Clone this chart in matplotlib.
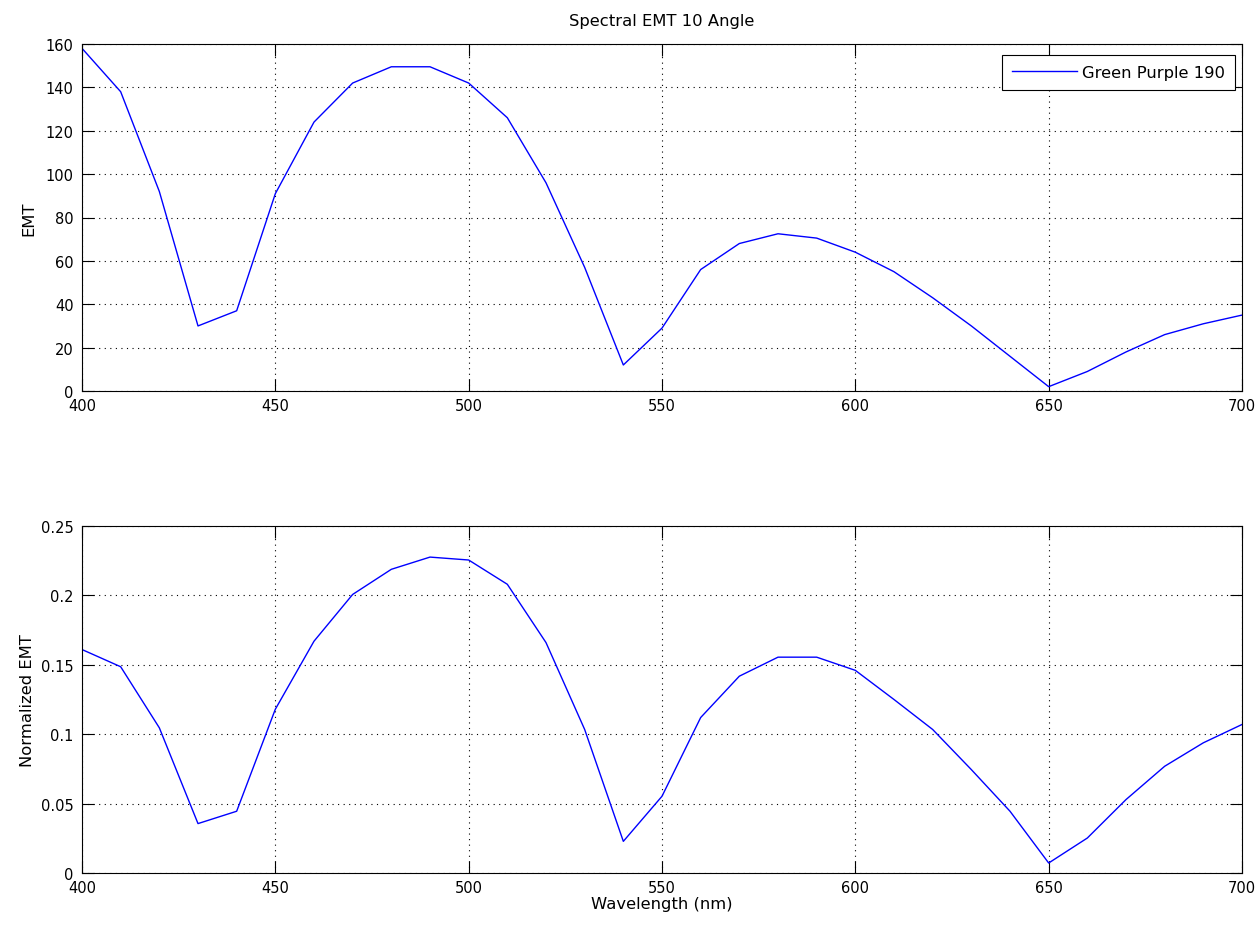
import matplotlib
matplotlib.use("Agg")
import matplotlib.pyplot as plt
import numpy as np

# wavelength grid (nm) and measured spectra
wavelength = np.arange(400, 701, 10)
emt = [158, 138, 92, 30, 37, 91, 124, 142, 149.5, 149.5,
       142, 126, 96, 57, 12, 29, 56, 68, 72.5, 70.5,
       64, 55, 43, 30, 16, 2, 9, 18, 26, 31, 35]
emt_norm = [0.161, 0.1486, 0.1046, 0.0356, 0.0445, 0.118, 0.167, 0.2007, 0.2188, 0.2276,
            0.2255, 0.208, 0.166, 0.1034, 0.0228, 0.0553, 0.112, 0.1418, 0.1555, 0.1555,
            0.146, 0.125, 0.1034, 0.0745, 0.0445, 0.0072, 0.0252, 0.0529, 0.0769, 0.0938, 0.107]
sample = "Green Purple 190"

plt.rcParams["font.family"] = ["DejaVu Sans"]
plt.rcParams["font.size"] = 10.5
LABEL_FS = 11.8

W, H = 1260, 928
fig = plt.figure(figsize=(W / 100, H / 100), dpi=100)
ax1 = fig.add_axes([82 / W, 1 - 392 / H, 1160 / W, 347 / H])
ax2 = fig.add_axes([82 / W, 1 - 874 / H, 1160 / W, 347 / H])


def style(ax):
    ax.set_xlim(400, 700)
    ax.set_xticks(np.arange(400, 701, 50))
    ax.grid(True, color="black", ls=(0, (1, 4)), lw=0.8)
    ax.tick_params(direction="in", top=True, right=True, length=8.5, width=0.8)
    ax.tick_params(axis="x", pad=5)
    ax.tick_params(axis="y", pad=6)
    for s in ax.spines.values():
        s.set_linewidth(0.8)


ax1.plot(wavelength, emt, color="#0000ff", lw=1.0, label=sample)
style(ax1)
ax1.set_ylim(0, 160)
ax1.set_yticks(np.arange(0, 161, 20))
ax1.set_ylabel("EMT", fontsize=LABEL_FS, labelpad=7)
ax1.set_title("Spectral EMT 10 Angle", fontsize=LABEL_FS, pad=14)
leg = ax1.legend(loc="upper right", bbox_to_anchor=(1 - 7 / 1160, 1 - 11 / 347),
                 borderaxespad=0, fancybox=False, framealpha=1, edgecolor="black",
                 fontsize=LABEL_FS, handlelength=4.0, handletextpad=0.3,
                 borderpad=0.6)
leg.get_frame().set_linewidth(0.8)

ax2.plot(wavelength, emt_norm, color="#0000ff", lw=1.0)
style(ax2)
ax2.set_ylim(0, 0.25)
ax2.set_yticks([0, 0.05, 0.1, 0.15, 0.2, 0.25])
ax2.set_yticklabels(["0", "0.05", "0.1", "0.15", "0.2", "0.25"])
ax2.set_ylabel("Normalized EMT", fontsize=LABEL_FS, labelpad=4)
ax2.set_xlabel("Wavelength (nm)", fontsize=LABEL_FS, labelpad=1)

fig.savefig("out.png", dpi=100)
